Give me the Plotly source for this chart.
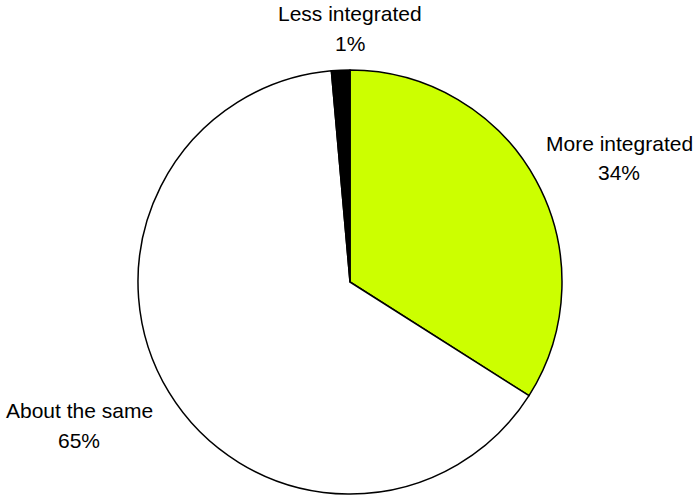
import plotly.graph_objects as go

# Survey responses
categories = ["More integrated", "About the same", "Less integrated"]
shares = [34.0, 64.6, 1.4]
colors = ["#CCFF00", "#FFFFFF", "#000000"]

W, H = 694, 497
cx, cy, r = 350, 282, 212

fig = go.Figure(go.Pie(
    labels=categories,
    values=shares,
    sort=False,
    direction="clockwise",
    rotation=0,
    marker=dict(colors=colors, line=dict(color="#000000", width=1.5)),
    textinfo="none",
    hoverinfo="label+percent",
    showlegend=False,
    domain=dict(x=[(cx - r) / W, (cx + r) / W],
                y=[(H - cy - r) / H, (H - cy + r) / H]),
))

# Label positions (pixel centres of the two text lines)
label_pos = {
    "More integrated": (619, 143, 173),
    "About the same": (79, 410, 440),
    "Less integrated": (350, 14, 43),
}
total = sum(shares)
annotations = []
for cat, val in zip(categories, shares):
    x, y1, y2 = label_pos[cat]
    pct = f"{round(val / total * 100)}%"
    for txt, yy in ((cat, y1), (pct, y2)):
        annotations.append(dict(
            text=txt, x=x / W, y=1 - yy / H, xref="paper", yref="paper",
            xanchor="center", yanchor="middle", showarrow=False,
            font=dict(family="Liberation Sans, Arial", size=21, color="#000000"),
        ))

fig.update_layout(
    width=W, height=H,
    margin=dict(l=0, r=0, t=0, b=0),
    paper_bgcolor="#FFFFFF",
    plot_bgcolor="#FFFFFF",
    annotations=annotations,
)

fig.write_html("out.html")
